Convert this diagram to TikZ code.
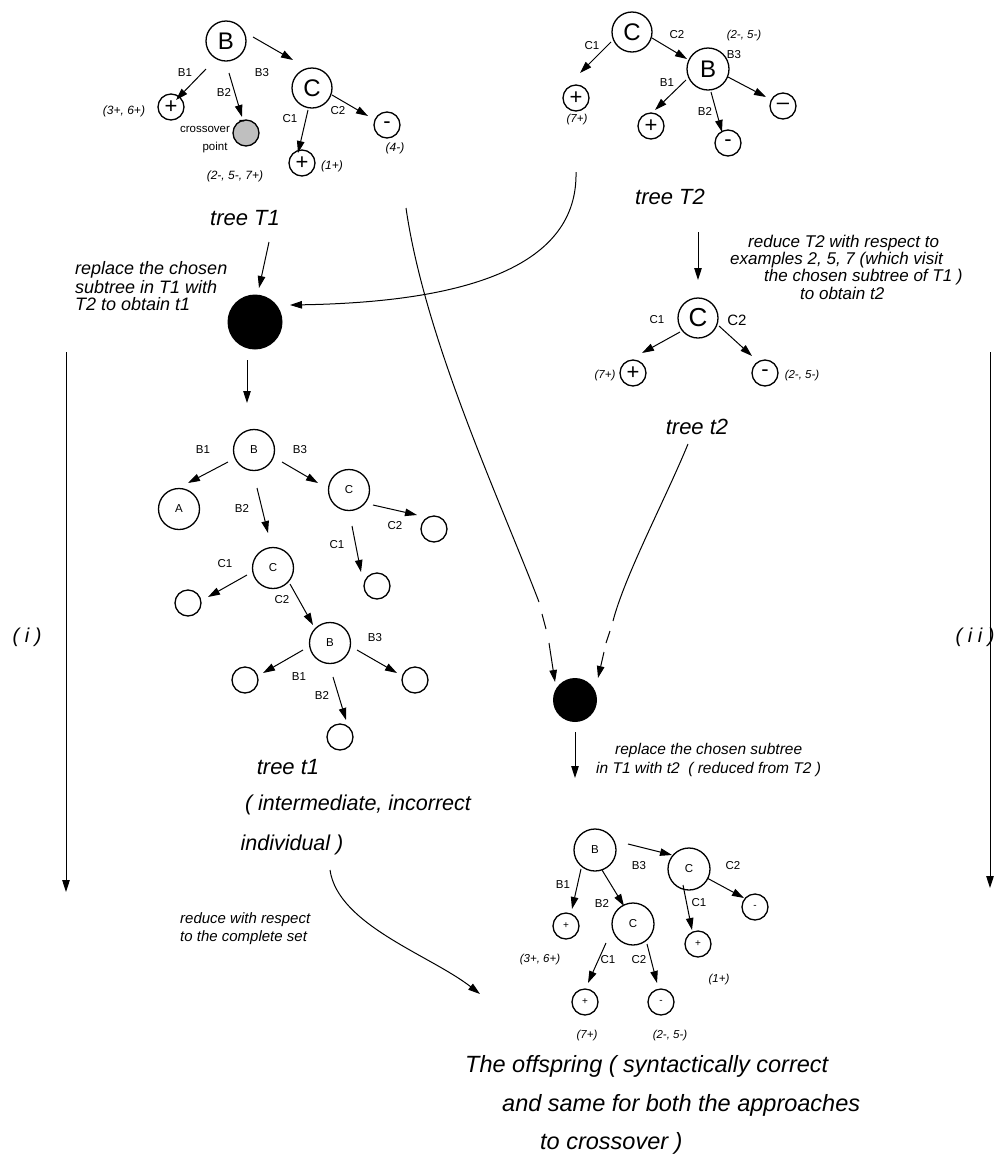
\documentclass[tikz,border=0pt]{standalone}
\usepackage{fontspec}
\setmainfont{Liberation Sans}
\usetikzlibrary{arrows.meta,calc}
\begin{document}
\begin{tikzpicture}[x=1pt,y=-1pt,
  ring/.style={circle,draw,line width=1.3pt,inner sep=0pt},
  bigring/.style={ring,minimum size=40pt,font=\fontsize{24}{24}\selectfont},
  midring/.style={ring,minimum size=41pt,font=\fontsize{11.5}{12}\selectfont},
  leafring/.style={ring,minimum size=26pt,font=\fontsize{22}{22}\selectfont},
  smallring/.style={ring,minimum size=26pt,font=\fontsize{10}{10}\selectfont},
  blob/.style={circle,fill=black,inner sep=0pt},
  lab/.style={inner sep=0pt,font=\fontsize{11.5}{13}\selectfont},
  note/.style={inner sep=0pt,font=\fontsize{12}{13}\selectfont\itshape},
  snote/.style={inner sep=0pt,font=\fontsize{11.5}{13}\selectfont\itshape},
  title/.style={inner sep=0pt,font=\fontsize{22}{22}\selectfont\itshape},
  ltext/.style={inner sep=0pt,anchor=west,font=\fontsize{18}{18}\selectfont\itshape},
  rtext/.style={inner sep=0pt,anchor=west,font=\fontsize{17}{17}\selectfont\itshape},
  mtext/.style={inner sep=0pt,anchor=west,font=\fontsize{15.5}{16}\selectfont\itshape},
  btext/.style={inner sep=0pt,font=\fontsize{21.5}{22}\selectfont\itshape},
  otext/.style={inner sep=0pt,anchor=west,font=\fontsize{23.5}{24}\selectfont\itshape},
  arr/.style={line width=1pt,-{Triangle[length=12pt,width=7.5pt]}},
  plain/.style={line width=1pt}
]
\useasboundingbox (0,0) rectangle (1008,1160);

% ---------- tree T1 ----------
\node[bigring] (tB) at (226,41) {B};
\node[bigring] (tC) at (312,88) {C};
\node[leafring] (tP1) at (171,107) {+};
\node[ring,minimum size=26pt,fill=gray!50] (tX) at (246,133) {};
\node[inner sep=0pt,font=\fontsize{20}{20}\selectfont] (tXm) at (242,123) {-};
\node[leafring] (tP2) at (302,163) {+};
\node[leafring] (tM1) at (387,125) {-};
\draw[arr] ($(tB)+(27,-4)$) -- ($(tC)+(-19,-28)$);
\draw[arr] ($(tB)+(-20,28)$) -- ($(tP1)+(5,-7)$);
\draw[arr] ($(tB)+(3,32)$) -- ($(tX)+(-4,-16)$);
\draw[arr] ($(tC)+(-4,22)$) -- ($(tP2)+(-4,-10)$);
\draw[arr] ($(tC)+(20,7)$) -- ($(tM1)+(-19,-9)$);
\node[lab] (tl1) at (185,73) {B1};
\node[lab] (tl2) at (224,92) {B2};
\node[lab] (tl3) at (262,73) {B3};
\node[lab] (tl4) at (290,119) {C1};
\node[lab] (tl5) at (338,111) {C2};
\node[note] (tn1) at (124,111) {(3+, 6+)};
\node[lab] (tn2) at (205,129) {crossover};
\node[lab] (tn3) at (215,148) {point};
\node[note] (tn4) at (235,176) {(2-, 5-, 7+)};
\node[note] (tn5) at (332,166) {(1+)};
\node[note] (tn6) at (395,148) {(4-)};
\node[title] (treeT1) at (245,218) {tree T1};

% ---------- tree T2 ----------
\node[bigring] (sC) at (632,32) {C};
\node[leafring] (sP1) at (576,98) {+};
\node[bigring,minimum size=42pt] (sB) at (708,69) {B};
\node[leafring] (sP2) at (651,126) {+};
\node[leafring] (sM1) at (728,143) {-};
\node[leafring] (sM2) at (783,106) {\textendash};
\draw[arr] ($(sC)+(-21,10)$) -- ($(sP1)+(4,-25)$);
\draw[arr] ($(sC)+(20,6)$) -- ($(sB)+(-21,-10)$);
\draw[arr] ($(sB)+(-22,11)$) -- ($(sP2)+(4,-16)$);
\draw[arr] ($(sB)+(3,23)$) -- ($(sM1)+(-6,-11)$);
\draw[arr] ($(sB)+(20,8)$) -- ($(sM2)+(-17,-9)$);
\node[lab] (sl1) at (592,46) {C1};
\node[lab] (sl2) at (677,35) {C2};
\node[snote] (sn1) at (744,36) {(2-, 5-)};
\node[lab] (sl3) at (734,55) {B3};
\node[lab] (sl4) at (667,83) {B1};
\node[lab] (sl5) at (705,111) {B2};
\node[snote] (sn2) at (577,120) {(7+)};
\node[title] (treeT2) at (670,197) {tree T2};

% ---------- building t1 (left) ----------
\node[blob,minimum size=55pt] (L) at (255,322) {};
\node[ltext] (lt1) at (75,270) {replace the chosen};
\node[ltext] (lt2) at (75,287) {subtree in T1 with};
\node[ltext] (lt3) at (75,304) {T2 to obtain t1};
\draw[arr] ($(treeT1)+(24,24)$) -- ($(L)+(4,-34)$);
\coordinate (c2a) at (576,172);
\draw[arr] (c2a) .. controls (578,265) and (470,302) .. ($(L)+(35,-17)$);

% ---------- reduced tree t2 ----------
\node[rtext] (r1) at (748,243) {reduce T2 with respect to};
\node[rtext] (r2) at (730,260) {examples 2, 5, 7 (which visit};
\node[rtext] (r3) at (764,277) {the chosen subtree of T1 )};
\node[rtext] (r4) at (800,293) {to obtain t2};
\node[ring,minimum size=40pt,font=\fontsize{26}{26}\selectfont] (vC) at (698,318) {C};
\node[leafring] (vP) at (633,373) {+};
\node[leafring] (vM) at (765,373) {-};
\draw[arr] ($(treeT2)+(28,35)$) -- ($(vC)+(0,-38)$);
\draw[arr] ($(vC)+(-18,14)$) -- ($(vP)+(9,-20)$);
\draw[arr] ($(vC)+(21,8)$) -- ($(vM)+(-13,-17)$);
\node[lab] (vl1) at (657,320) {C1};
\node[lab,font=\fontsize{15}{15}\selectfont] (vl2) at (737,320) {C2};
\node[snote] (vn1) at (605,376) {(7+)};
\node[snote] (vn2) at (802,376) {(2-, 5-)};
\node[title] (treet2) at (697,427) {tree t2};

% ---------- side arrows ----------
\coordinate (iTop) at (66,352);
\coordinate (iBot) at (66,892);
\coordinate (jTop) at (990,352);
\coordinate (jBot) at (990,888);
\draw[arr] (iTop) -- (iBot);
\draw[arr] (jTop) -- (jBot);
\node[inner sep=0pt,font=\fontsize{20}{20}\selectfont\itshape] (romI) at (27,637) {( i )};
\node[inner sep=0pt,font=\fontsize{20}{20}\selectfont\itshape] (romII) at (975,637) {( i i )};

% ---------- tree t1 ----------
\node[midring] (uB) at (254,450) {B};
\node[midring] (uA) at (179,509) {A};
\node[midring] (uCr) at (349,490) {C};
\node[midring] (uCm) at (273,568) {C};
\node[ring,minimum size=26pt] (uO1) at (434,529) {};
\node[ring,minimum size=26pt] (uO2) at (377,586) {};
\node[ring,minimum size=26pt] (uO3) at (188,603) {};
\node[midring] (uB2) at (330,643) {B};
\node[ring,minimum size=26pt] (uO4) at (245,680) {};
\node[ring,minimum size=26pt] (uO5) at (415,680) {};
\node[ring,minimum size=26pt] (uO6) at (340,737) {};
\draw[arr] ($(L)+(-8,38)$) -- ($(uB)+(-7,-47)$);
\draw[arr] ($(uB)+(-26,12)$) -- ($(uA)+(9,-26)$);
\draw[arr] ($(uB)+(3,38)$) -- ($(uCm)+(-5,-35)$);
\draw[arr] ($(uB)+(28,12)$) -- ($(uCr)+(-31,-7)$);
\draw[arr] ($(uCr)+(24,15)$) -- ($(uO1)+(-17,-14)$);
\draw[arr] ($(uCr)+(3,36)$) -- ($(uO2)+(-16,-14)$);
\draw[arr] ($(uCm)+(-26,7)$) -- ($(uO3)+(20,-6)$);
\draw[arr] ($(uCm)+(17,16)$) -- ($(uB2)+(-17,-18)$);
\draw[arr] ($(uB2)+(-27,7)$) -- ($(uO4)+(18,-7)$);
\draw[arr] ($(uB2)+(27,7)$) -- ($(uO5)+(-18,-7)$);
\draw[arr] ($(uB2)+(3,34)$) -- ($(uO6)+(6,-17)$);
\node[lab] (ul1) at (203,450) {B1};
\node[lab] (ul2) at (300,450) {B3};
\node[lab] (ul3) at (242,508) {B2};
\node[lab] (ul4) at (337,545) {C1};
\node[lab] (ul5) at (395,526) {C2};
\node[lab] (ul6) at (225,564) {C1};
\node[lab] (ul7) at (282,600) {C2};
\node[lab] (ul8) at (375,638) {B3};
\node[lab] (ul9) at (299,677) {B1};
\node[lab] (ul10) at (322,695) {B2};
\node[title] (treet1) at (288,767) {tree t1};
\node[btext] (ti1) at (358,805) {( intermediate, incorrect};
\node[btext] (ti2) at (292,845) {individual )};

% ---------- merging t2 into T1 (right) ----------
\node[blob,minimum size=44pt] (R) at (575,700) {};
\coordinate (k0) at (406,208);
\coordinate (k1) at (539,602);
\coordinate (k2) at (542,614);
\coordinate (k3) at (546,629);
\coordinate (k4) at (549,643);
\draw[plain] (k0) .. controls (425,340) and (500,500) .. (k1);
\draw[plain] (k2) -- (k3);
\draw[arr] (k4) -- ($(R)+(-20,-18)$);
\coordinate (m0) at (688,444);
\coordinate (m1) at (613,621);
\coordinate (m2) at (610,631);
\coordinate (m3) at (606,643);
\coordinate (m4) at (604,652);
\draw[plain] (m0) .. controls (665,500) and (625,575) .. (m1);
\draw[plain] (m2) -- (m3);
\draw[arr] (m4) -- ($(R)+(23,-22)$);
\node[mtext] (rt1) at (615,750) {replace the chosen subtree};
\node[mtext] (rt2) at (596,769) {in T1 with t2\ \ ( reduced from T2 )};

% ---------- the offspring ----------
\node[midring,minimum size=42pt] (bB) at (595,850) {B};
\node[midring,minimum size=42pt] (bCr) at (689,869) {C};
\node[midring,minimum size=42pt] (bCm) at (633,924) {C};
\node[smallring] (bP1) at (566,926) {+};
\node[smallring] (bM1) at (755,907) {-};
\node[smallring] (bP2) at (698,944) {+};
\node[smallring] (bP3) at (585,1002) {+};
\node[smallring] (bM2) at (661,1002) {-};
\draw[arr] ($(R)+(0,32)$) -- ($(bB)+(-20,-72)$);
\draw[arr] ($(bB)+(33,-6)$) -- ($(bCr)+(-17,-14)$);
\draw[arr] ($(bB)+(-14,19)$) -- ($(bP1)+(6,-17)$);
\draw[arr] ($(bB)+(7,20)$) -- ($(bCm)+(-9,-18)$);
\draw[arr] ($(bCr)+(-6,16)$) -- ($(bP2)+(-6,-14)$);
\draw[arr] ($(bCr)+(18,9)$) -- ($(bM1)+(-11,-9)$);
\draw[arr] ($(bCm)+(-27,19)$) -- ($(bP3)+(3,-19)$);
\draw[arr] ($(bCm)+(14,20)$) -- ($(bM2)+(-4,-19)$);
\node[lab] (bl1) at (563,885) {B1};
\node[lab] (bl2) at (602,903) {B2};
\node[lab] (bl3) at (639,866) {B3};
\node[lab] (bl4) at (733,866) {C2};
\node[lab] (bl5) at (699,903) {C1};
\node[lab] (bl6) at (608,960) {C1};
\node[lab] (bl7) at (639,960) {C2};
\node[snote] (bn1) at (540,960) {(3+, 6+)};
\node[snote] (bn2) at (719,980) {(1+)};
\node[snote] (bn3) at (587,1036) {(7+)};
\node[snote] (bn4) at (670,1036) {(2-, 5-)};

\coordinate (q1) at (480,994);
\draw[arr] ($(ti2)+(38,25)$) .. controls (338,925) and (430,955) .. (q1);
\node[mtext,font=\fontsize{15}{15}\selectfont\itshape] (rw1) at (180,920) {reduce with respect};
\node[mtext,font=\fontsize{15}{15}\selectfont\itshape] (rw2) at (180,938) {to the complete set};

\node[otext] (of1) at (465,1066) {The offspring ( syntactically correct};
\node[otext] (of2) at (502,1105) {and same for both the approaches};
\node[otext] (of3) at (540,1143) {to crossover )};
\end{tikzpicture}
\end{document}
